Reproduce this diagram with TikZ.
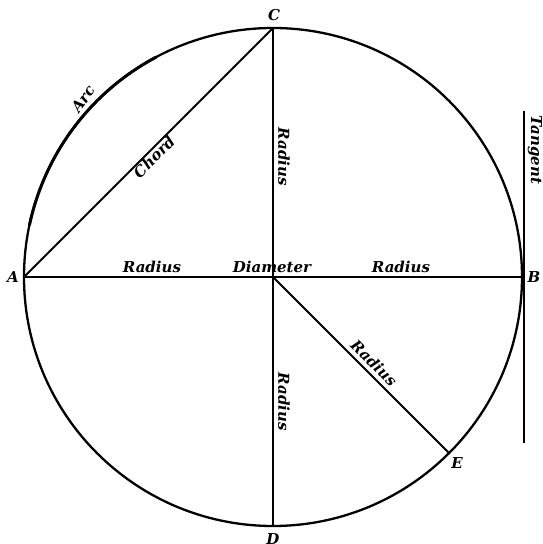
\documentclass[tikz,border=0pt]{standalone}
\usepackage{fontspec}
\setmainfont{DejaVu Serif}
\usepackage{tikz}
\usetikzlibrary{calc}
\tikzset{
    rim/.style={line width=2.3pt, black},
    seg/.style={line width=1.8pt, black},
    lbl/.style={inner sep=0pt, font=\fontsize{15}{17}\selectfont\bfseries\itshape},
    pointlbl/.style={inner sep=0pt, font=\fontsize{15}{17}\selectfont\bfseries\itshape}
}

\begin{document}
\begin{tikzpicture}[x=1pt, y=1pt]
    \useasboundingbox (0,0) rectangle (543,544);

    % Circle and its points
    \coordinate (O) at (273,267);
    \coordinate (A) at (24,267);
    \coordinate (B) at (522,267);
    \coordinate (C) at (273,516);
    \coordinate (D) at (273,18);
    \coordinate (E) at (449,91);
    \draw[rim] (O) circle[radius=249];
    \draw[line width=3pt] ($(O)+(168:249)$) arc[start angle=168, end angle=118, radius=249];

    % Lines
    \draw[seg] (A) -- (B);
    \draw[seg] (C) -- (D);
    \draw[seg] (A) -- (C);
    \draw[seg] (O) -- (E);

    % Tangent at B
    \coordinate (T1) at (524,433);
    \coordinate (T2) at (524,101);
    \draw[seg] (T1) -- (T2);

    % Point labels
    \node[pointlbl] (lA) at (13,267) {A};
    \node[pointlbl] (lB) at (534,267) {B};
    \node[pointlbl] (lC) at (274,529) {C};
    \node[pointlbl] (lD) at (273,5) {D};
    \node[pointlbl] (lE) at (457,81) {E};

    % Line labels
    \node[lbl] (rLeft) at (152,277) {Radius};
    \node[lbl] (diam) at (272,277) {Diameter};
    \node[lbl] (rRight) at (401,277) {Radius};
    \node[lbl, rotate=-90] (rUp) at (284,387) {Radius};
    \node[lbl, rotate=-90] (rDown) at (284,142) {Radius};
    \node[lbl, rotate=45] (chord) at (154,387) {Chord};
    \node[lbl, rotate=-45] (rSlant) at (374,181) {Radius};
    \node[lbl, rotate=55] (arc) at (83,445) {Arc};
    \node[lbl, rotate=-90] (tang) at (535,394) {Tangent};
\end{tikzpicture}
\end{document}
